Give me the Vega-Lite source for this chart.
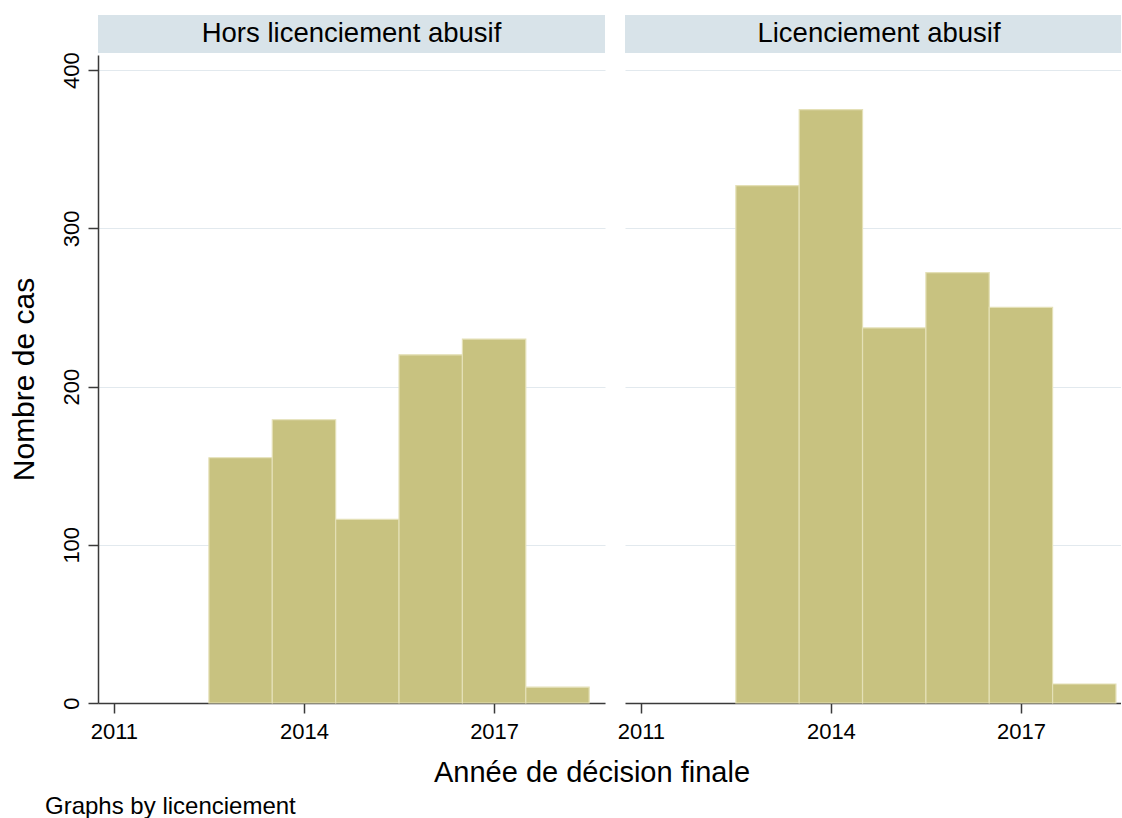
{
  "$schema": "https://vega.github.io/schema/vega-lite/v6.json",
  "background": "white",
  "padding": {"left": 9, "top": 15, "right": 0, "bottom": 0},
  "config": {
    "font": "Liberation Sans",
    "view": {"stroke": null},
    "axis": {
      "domainColor": "#3a3a3a",
      "domainWidth": 1.5,
      "tickColor": "#3a3a3a",
      "tickWidth": 1.5,
      "tickSize": 10,
      "labelColor": "black",
      "labelFontSize": 22,
      "titleColor": "black",
      "titleFontSize": 30,
      "titleFontWeight": "normal",
      "gridColor": "#e2e9ee",
      "gridWidth": 1.2
    },
    "title": {"fontWeight": "normal", "color": "black"}
  },
  "datasets": {
    "hist": [
      {"panel": "Hors licenciement abusif", "start": 2012.5, "end": 2013.5, "count": 155},
      {"panel": "Hors licenciement abusif", "start": 2013.5, "end": 2014.5, "count": 179},
      {"panel": "Hors licenciement abusif", "start": 2014.5, "end": 2015.5, "count": 116},
      {"panel": "Hors licenciement abusif", "start": 2015.5, "end": 2016.5, "count": 220},
      {"panel": "Hors licenciement abusif", "start": 2016.5, "end": 2017.5, "count": 230},
      {"panel": "Hors licenciement abusif", "start": 2017.5, "end": 2018.5, "count": 10},
      {"panel": "Licenciement abusif", "start": 2012.5, "end": 2013.5, "count": 327},
      {"panel": "Licenciement abusif", "start": 2013.5, "end": 2014.5, "count": 375},
      {"panel": "Licenciement abusif", "start": 2014.5, "end": 2015.5, "count": 237},
      {"panel": "Licenciement abusif", "start": 2015.5, "end": 2016.5, "count": 272},
      {"panel": "Licenciement abusif", "start": 2016.5, "end": 2017.5, "count": 250},
      {"panel": "Licenciement abusif", "start": 2017.5, "end": 2018.5, "count": 12}
    ],
    "panels": [
      {"panel": "Hors licenciement abusif"},
      {"panel": "Licenciement abusif"}
    ]
  },
  "title": {"text": "Graphs by licenciement", "orient": "bottom", "anchor": "start", "fontSize": 24, "dx": 36, "offset": 7},
  "vconcat": [
    {
      "title": {"text": "Année de décision finale", "orient": "bottom", "anchor": "middle", "fontSize": 29, "dx": 27, "offset": 17},
      "spacing": 12,
      "hconcat": [
        {
          "spacing": 2,
          "bounds": "flush",
          "vconcat": [
            {
              "data": {"name": "panels"},
              "transform": [{"filter": "datum.panel == 'Hors licenciement abusif'"}],
              "width": 507,
              "height": 38,
              "view": {"fill": "#d8e3e9", "stroke": null},
              "mark": {"type": "text", "fontSize": 27.5, "color": "black", "baseline": "middle", "align": "center"},
              "encoding": {"text": {"field": "panel", "type": "nominal"}}
            },
            {
              "data": {"name": "hist"},
              "transform": [{"filter": "datum.panel == 'Hors licenciement abusif'"}],
              "width": 507,
              "height": 648,
              "mark": {"type": "rect", "fill": "#c8c280", "stroke": "#e4e0b6", "strokeWidth": 1.2},
              "encoding": {
                "x": {"field": "start", "type": "quantitative",
                  "scale": {"domain": [2010.75, 2018.75], "nice": false, "zero": false},
                  "axis": {"values": [2011, 2014, 2017], "format": "d", "title": null, "grid": false, "labelPadding": 8}},
                "x2": {"field": "end"},
                "y": {"field": "count", "type": "quantitative",
                  "scale": {"domain": [0, 409.5], "nice": false},
                  "axis": {"values": [0, 100, 200, 300, 400], "title": "Nombre de cas", "labelAngle": -90, "labelPadding": 5, "titlePadding": 21, "grid": true}}
              }
            }
          ]
        },
        {
          "spacing": 2,
          "bounds": "flush",
          "vconcat": [
            {
              "data": {"name": "panels"},
              "transform": [{"filter": "datum.panel == 'Licenciement abusif'"}],
              "width": 496,
              "height": 38,
              "view": {"fill": "#d8e3e9", "stroke": null},
              "mark": {"type": "text", "fontSize": 27.5, "color": "black", "baseline": "middle", "align": "center", "dx": 6},
              "encoding": {"text": {"field": "panel", "type": "nominal"}}
            },
            {
              "data": {"name": "hist"},
              "transform": [{"filter": "datum.panel == 'Licenciement abusif'"}],
              "width": 496,
              "height": 648,
              "mark": {"type": "rect", "fill": "#c8c280", "stroke": "#e4e0b6", "strokeWidth": 1.2},
              "encoding": {
                "x": {"field": "start", "type": "quantitative",
                  "scale": {"domain": [2010.75, 2018.58], "nice": false, "zero": false},
                  "axis": {"values": [2011, 2014, 2017], "format": "d", "title": null, "grid": false, "labelPadding": 8}},
                "x2": {"field": "end"},
                "y": {"field": "count", "type": "quantitative",
                  "scale": {"domain": [0, 409.5], "nice": false},
                  "axis": {"values": [100, 200, 300, 400], "title": null, "labels": false, "ticks": false, "domain": false, "grid": true}}
              }
            }
          ]
        }
      ]
    }
  ]
}
